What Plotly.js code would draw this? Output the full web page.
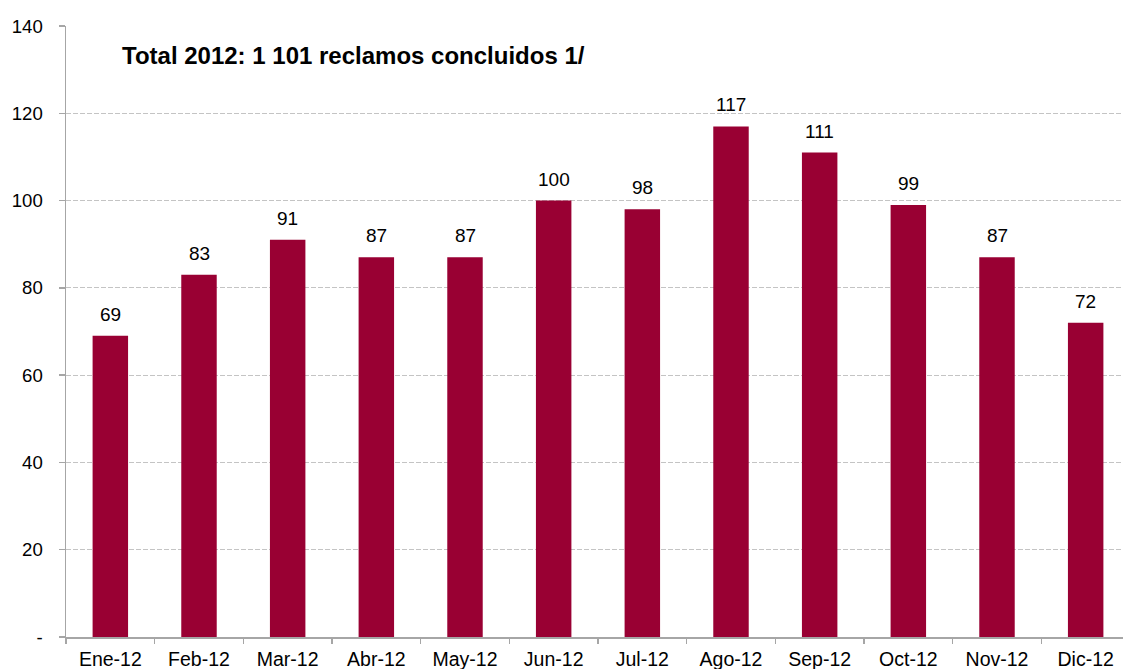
<!DOCTYPE html>
<html>
<head>
<meta charset="utf-8">
<script src="https://cdn.plot.ly/plotly-3.0.1.min.js"></script>
<style>
html, body { margin: 0; padding: 0; overflow: hidden; background: #fff; }
#chart { width: 1131px; height: 669px; }
</style>
</head>
<body>
<div id="chart"></div>
<script>
const categories = ["Ene-12", "Feb-12", "Mar-12", "Abr-12", "May-12", "Jun-12", "Jul-12", "Ago-12", "Sep-12", "Oct-12", "Nov-12", "Dic-12"];
const reclamos = [69, 83, 91, 87, 87, 100, 98, 117, 111, 99, 87, 72];
const yTickVals = [0, 20, 40, 60, 80, 100, 120, 140];
const yTickText = ["-", "20", "40", "60", "80", "100", "120", "140"];
const titleText = "Total 2012: 1 101 reclamos concluidos 1/";

const FONT = "Arial, 'Liberation Sans', sans-serif";

const trace = {
  type: "bar",
  x: categories,
  y: reclamos,
  marker: { color: "#990033", line: { width: 0 } },
  hoverinfo: "x+y"
};

const labelAnns = categories.map((c, i) => ({
  x: c, y: reclamos[i], xref: "x", yref: "y",
  text: String(reclamos[i]), showarrow: false,
  yanchor: "bottom", xanchor: "center", yshift: 9,
  font: { family: FONT, size: 19, color: "#000" }
}));

const layout = {
  width: 1131, height: 669,
  margin: { l: 66, r: 1, t: 26, b: 32 },
  paper_bgcolor: "#fff", plot_bgcolor: "#fff",
  bargap: 0.6,
  showlegend: false,
  font: { family: FONT, size: 19, color: "#000" },
  xaxis: {
    type: "category",
    showline: true, linecolor: "#a6a6a6", linewidth: 1.5,
    ticks: "outside", tickson: "boundaries", ticklen: 5, tickcolor: "#a6a6a6", tickwidth: 1.5,
    showgrid: false, zeroline: false,
    ticklabelstandoff: 4,
    tickfont: { family: FONT, size: 19.5, color: "#000" }
  },
  yaxis: {
    range: [0, 140],
    tickvals: yTickVals, ticktext: yTickText,
    showline: true, linecolor: "#a6a6a6", linewidth: 1.5,
    ticks: "outside", ticklen: 6, tickcolor: "#a6a6a6", tickwidth: 1.5,
    showgrid: true, gridcolor: "#c4c4c4", griddash: "5px,2px", gridwidth: 1,
    zeroline: false,
    ticklabelstandoff: 12,
    tickfont: { family: FONT, size: 18.6, color: "#000" }
  },
  annotations: [
    {
      xref: "paper", yref: "paper", x: 0.0505, y: 0.951,
      xanchor: "left", yanchor: "middle", showarrow: false,
      text: "<b>" + titleText + "</b>",
      font: { family: FONT, size: 24, color: "#000" }
    }
  ].concat(labelAnns)
};

Plotly.newPlot("chart", [trace], layout, { displayModeBar: false, staticPlot: true });
</script>
</body>
</html>
